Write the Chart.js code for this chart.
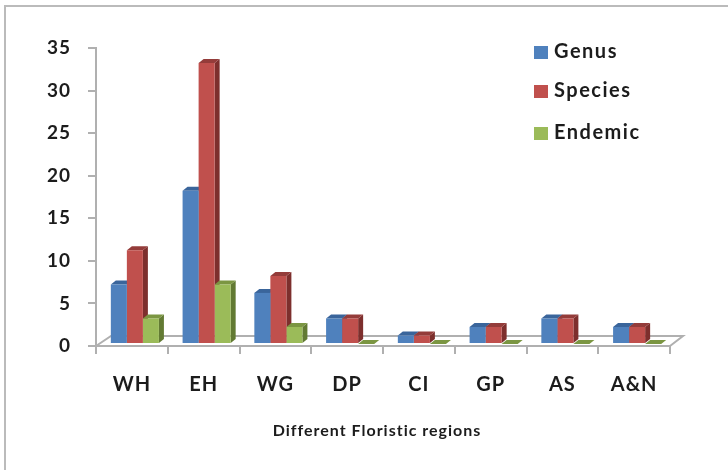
<!DOCTYPE html>
<html>
<head>
<meta charset="utf-8">
<title>Different Floristic regions</title>
<script src="https://cdn.jsdelivr.net/npm/chart.js@4"></script>
<style>
    html, body { margin: 0; padding: 0; background: #fff; }
    #wrap { position: relative; width: 728px; height: 470px; overflow: hidden; }
    #frame { position: absolute; left: 4px; top: 5px; width: 724px; height: 465px; border-top: 2px solid #bbb; border-left: 2px solid #bbb; box-sizing: border-box; }
    #progress { position: absolute; left: 0; top: 0; filter: blur(0.6px); }
</style>
</head>
<body>
<div id="wrap">
    <div id="frame"></div>
    <canvas id="progress" width="728" height="470"></canvas>
</div>
<script>
// Data
const categories = ['WH', 'EH', 'WG', 'DP', 'CI', 'GP', 'AS', 'A&N'];
const genus = [7, 18, 6, 3, 1, 2, 3, 2];
const species = [11, 33, 8, 3, 1, 2, 3, 2];
const endemic = [3, 7, 2, 0, 0, 0, 0, 0];
const yTicks = [0, 5, 10, 15, 20, 25, 30, 35];
const xTitle = 'Different Floristic regions';

const axisColor = '#b0b0b0';
const textColor = '#1c1c1c';
const fontFamily = 'Lato, "Open Sans", sans-serif';

// front, side, top colours of each series
const faces = [
    { front: '#4f81bd', side: '#2f5687', top: '#3a659b' },
    { front: '#c0504d', side: '#7d2f2d', top: '#943c3a' },
    { front: '#9bbb59', side: '#627a33', top: '#7b9642' }
];

// Bars are pushed a little up and right of the axis, then given a depth
const shiftX = 3;
const shiftY = -2;
const depthX = 5;
const depthY = 4;

const polygon = (ctx, pts, color) => {
    ctx.fillStyle = color;
    ctx.beginPath();
    pts.forEach((p, i) => i ? ctx.lineTo(p[0], p[1]) : ctx.moveTo(p[0], p[1]));
    ctx.closePath();
    ctx.fill();
};

const depth3d = {
    id: 'depth3d',
    beforeDraw(chart) {
        // The reference text is stretched wide, tick labels pick this up too
        chart.ctx.letterSpacing = '1px';
    },
    beforeDatasetsDraw(chart) {
        const { ctx, chartArea, scales } = chart;
        const base = scales.y.getPixelForValue(0);
        const floorX = 15;
        const floorY = 10;

        // Floor behind the bars
        ctx.save();
        ctx.strokeStyle = axisColor;
        ctx.lineWidth = 2;
        ctx.beginPath();
        ctx.moveTo(chartArea.left, base);
        ctx.lineTo(chartArea.left + floorX, base - floorY);
        ctx.lineTo(chartArea.right + floorX - 2, base - floorY);
        ctx.lineTo(chartArea.right, base);
        ctx.stroke();
        ctx.restore();

        // Side and top faces
        ctx.save();
        ctx.translate(shiftX, shiftY);
        chart.data.datasets.forEach((ds, d) => {
            chart.getDatasetMeta(d).data.forEach((bar) => {
                const l = bar.x - bar.width / 2;
                const r = bar.x + bar.width / 2;
                const top = bar.y;
                const bottom = bar.base;
                polygon(ctx, [[r, top], [r + depthX, top - depthY], [r + depthX, bottom - depthY], [r, bottom]], faces[d].side);
                polygon(ctx, [[l, top], [l + depthX, top - depthY], [r + depthX, top - depthY], [r, top]], faces[d].top);
            });
        });
        // Library draws the front faces on the same shift
    },
    afterDatasetsDraw(chart) {
        const { ctx } = chart;
        ctx.restore();

        // Legend
        const rows = [52, 91, 133];
        ctx.save();
        ctx.font = 'bold 20px ' + fontFamily;
        ctx.letterSpacing = '1.5px';
        ctx.textBaseline = 'middle';
        ctx.textAlign = 'left';
        chart.data.datasets.forEach((ds, d) => {
            ctx.fillStyle = faces[d].front;
            ctx.fillRect(534, rows[d] - 6, 14, 13);
            ctx.fillStyle = textColor;
            ctx.fillText(ds.label, 554, rows[d]);
        });

        // Axis title, sits a bit left of the plot centre
        ctx.font = 'bold 16px ' + fontFamily;
        ctx.letterSpacing = '1px';
        ctx.textAlign = 'center';
        ctx.fillText(xTitle, 377, 431);
        ctx.restore();
    }
};

const series = [['Genus', genus], ['Species', species], ['Endemic', endemic]];

new Chart(document.getElementById('progress').getContext('2d'), {
    type: 'bar',
    data: {
        labels: categories,
        datasets: series.map(([label, values], i) => ({
            label,
            data: values,
            backgroundColor: faces[i].front,
            borderWidth: 0,
            categoryPercentage: 0.67,
            barPercentage: 1
        }))
    },
    options: {
        responsive: false,
        animation: false,
        layout: { padding: { top: 48, right: 58, left: 0, bottom: 0 } },
        plugins: { legend: { display: false }, tooltip: { enabled: false } },
        scales: {
            x: {
                afterFit: (scale) => { scale.height = 124; },
                grid: { drawOnChartArea: false, color: axisColor, lineWidth: 2, tickLength: 8, offset: true },
                border: { color: axisColor, width: 2 },
                ticks: { color: textColor, font: { family: fontFamily, size: 20, weight: 'bold' }, padding: 19, maxRotation: 0, autoSkip: false }
            },
            y: {
                min: 0,
                max: 35,
                afterFit: (scale) => { scale.width = 96; },
                afterBuildTicks: (scale) => { scale.ticks = yTicks.map((value) => ({ value })); },
                grid: { drawOnChartArea: false, color: axisColor, lineWidth: 2, tickLength: 8 },
                border: { color: axisColor, width: 2 },
                ticks: { color: textColor, font: { family: fontFamily, size: 19, weight: 'bold' }, padding: 17 }
            }
        }
    },
    plugins: [depth3d]
});
</script>
</body>
</html>
